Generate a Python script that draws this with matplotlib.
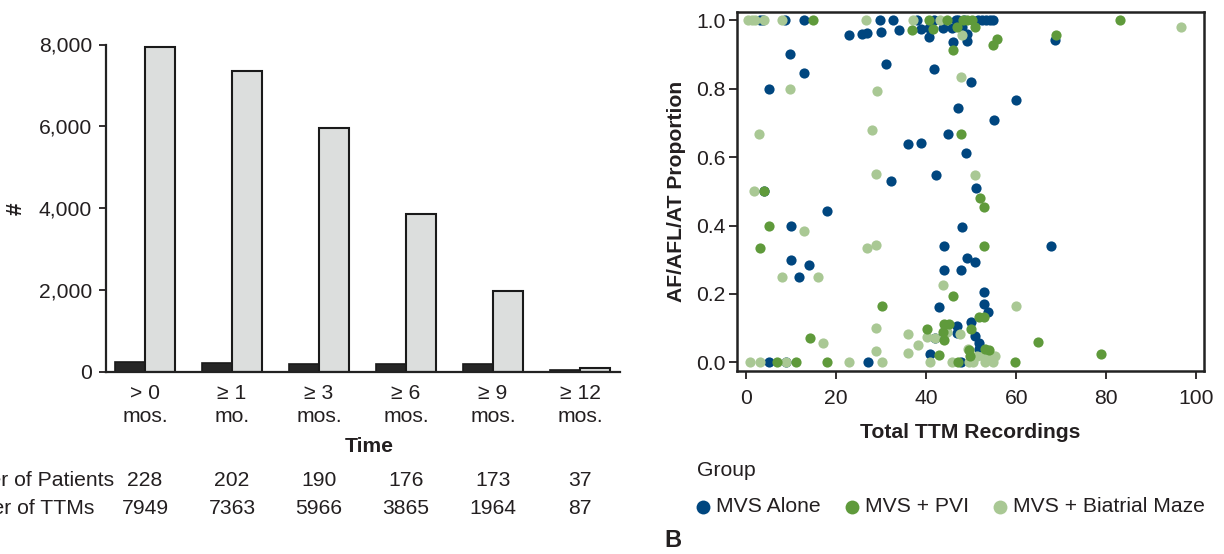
import matplotlib
matplotlib.use("Agg")
import matplotlib.pyplot as plt
from matplotlib.lines import Line2D
from matplotlib.ticker import FuncFormatter

plt.rcParams['font.family'] = ['Liberation Sans', 'DejaVu Sans']

TXT = '#231f20'

# ---------------- Panel A data ----------------
time_labels = ['> 0\nmos.', '≥ 1\nmo.', '≥ 3\nmos.', '≥ 6\nmos.', '≥ 9\nmos.', '≥ 12\nmos.']
n_patients = [228, 202, 190, 176, 173, 37]
n_ttms = [7949, 7363, 5966, 3865, 1964, 87]
row_labels = ['Number of Patients', 'Number of TTMs']

# ---------------- Panel B data ----------------
groups = ['MVS Alone', 'MVS + PVI', 'MVS + Biatrial Maze']
group_colors = ['#00467f', '#5f9a3b', '#a9c894']

alone_x = [3.0, 3.8, 8.7, 12.9, 29.8, 32.7, 37.9, 41.7, 46.6, 47.1, 48.3, 51.4, 52.3, 53.3, 54.2, 54.9,
           22.9, 25.7, 26.8, 29.9, 34.0, 38.8, 40.7, 43.8, 45.7, 47.9, 40.7, 49.0, 46.0, 49.0, 68.6,
           9.8, 12.8, 5.1, 31.0, 41.8, 50.0, 47.1, 55.0, 60.0, 36.0, 38.8, 44.8, 48.8, 32.2, 42.1, 51.0,
           4.0, 17.9, 9.9, 47.9, 44.0, 67.7, 49.0, 50.9, 44.0, 47.8, 9.9, 14.0, 11.8, 52.8, 52.8, 53.7,
           42.9, 50.0, 46.9, 46.9, 42.0, 50.8, 51.8, 51.7, 40.8,
           5.1, 8.8, 27.0, 47.7]
alone_y = [1.0, 1.0, 1.0, 1.0, 1.0, 1.0, 1.0, 1.0, 1.0, 1.0, 1.0, 1.0, 1.0, 1.0, 1.0, 1.0,
           0.957, 0.96, 0.962, 0.966, 0.972, 0.973, 0.976, 0.977, 0.976, 0.98, 0.952, 0.96, 0.935, 0.939, 0.942,
           0.90, 0.846, 0.80, 0.872, 0.858, 0.82, 0.744, 0.709, 0.766, 0.639, 0.641, 0.667, 0.612, 0.531, 0.547, 0.509,
           0.5, 0.443, 0.40, 0.395, 0.341, 0.339, 0.306, 0.293, 0.271, 0.27, 0.299, 0.284, 0.25, 0.207, 0.17, 0.148,
           0.162, 0.119, 0.107, 0.085, 0.072, 0.077, 0.056, 0.038, 0.024,
           0.0, 0.0, 0.0, 0.0]

pvi_x = [14.9, 40.7, 44.7, 48.1, 49.1, 50.1, 83.0,
         36.9, 41.6, 46.8, 50.8, 45.9, 55.8, 54.8, 68.8,
         47.8, 51.9, 52.9, 3.9, 5.1, 3.1, 52.8, 30.1, 46.0, 51.7, 52.9, 44.0, 45.1, 49.9, 40.1,
         43.8, 44.0, 14.1, 64.9, 78.9, 42.8, 49.6, 53.1, 54.0, 49.8,
         6.9, 11.1, 18.0, 47.0, 59.8]
pvi_y = [1.0, 1.0, 1.0, 1.0, 1.0, 1.0, 1.0,
         0.972, 0.975, 0.98, 0.98, 0.912, 0.946, 0.927, 0.957,
         0.667, 0.481, 0.453, 0.5, 0.40, 0.333, 0.339, 0.166, 0.195, 0.134, 0.133, 0.113, 0.111, 0.098, 0.099,
         0.09, 0.066, 0.07, 0.061, 0.025, 0.022, 0.037, 0.038, 0.037, 0.02,
         0.0, 0.0, 0.0, 0.0, 0.0]

maze_x = [0.5, 1.3, 1.9, 3.9, 8.0, 26.7, 37.0, 43.1,
          47.9, 96.6,
          9.8, 2.9, 29.0, 28.0, 47.7, 28.8, 50.9, 1.7, 12.9, 26.8, 28.9, 8.0, 16.0, 43.8, 60.0,
          28.9, 17.0, 28.8, 36.0, 40.1, 42.0, 44.6, 47.4, 38.1, 36.0, 49.2, 51.2, 52.7, 54.2, 55.2,
          0.85, 3.0, 8.8, 22.8, 30.1, 40.8, 45.7, 49.5, 50.4, 53.1, 54.9]
maze_y = [1.0, 1.0, 1.0, 1.0, 1.0, 1.0, 1.0, 1.0,
          0.958, 0.98,
          0.80, 0.667, 0.794, 0.678, 0.834, 0.55, 0.549, 0.5, 0.385, 0.333, 0.344, 0.25, 0.25, 0.227, 0.166,
          0.102, 0.058, 0.034, 0.082, 0.075, 0.072, 0.089, 0.084, 0.052, 0.027, 0.04, 0.019, 0.019, 0.019, 0.019,
          0.0, 0.0, 0.0, 0.0, 0.0, 0.0, 0.0, 0.0, 0.0, 0.0, 0.0]

W, H = 1224, 554
fig = plt.figure(figsize=(W / 100, H / 100), dpi=100)


def fx(px):
    return px / W


def fy(py):
    return 1 - py / H


FS = 15.2

# ---------------- Panel A ----------------
axA = fig.add_axes([fx(106), fy(371.5), fx(620) - fx(106), fy(44.5) - fy(371.5)])
centers = list(range(len(time_labels)))
bw = 0.34
axA.bar([c - bw / 2 for c in centers], n_patients, width=bw, color='#262626',
        edgecolor='#1a1a1a', linewidth=1.2, zorder=2)
axA.bar([c + bw / 2 for c in centers], n_ttms, width=bw, color='#dcdedd',
        edgecolor='#1a1a1a', linewidth=1.5, zorder=2)
axA.set_xlim((106 - 145) / 87, (620 - 145) / 87)
axA.set_ylim(0, 8000)
axA.set_yticks([0, 2000, 4000, 6000, 8000])
axA.yaxis.set_major_formatter(FuncFormatter(lambda v, p: f'{int(v):,}'))
axA.set_xticks(centers)
axA.set_xticklabels(time_labels, fontsize=FS, color=TXT, linespacing=1.25)
axA.tick_params(axis='x', length=0, pad=9)
axA.tick_params(axis='y', length=5, width=1.3, pad=5, labelsize=FS, colors=TXT, direction='out')
for s in ['top', 'right']:
    axA.spines[s].set_visible(False)
for s in ['left', 'bottom']:
    axA.spines[s].set_linewidth(1.6)
    axA.spines[s].set_color('#222222')
axA.patch.set_alpha(0)

fig.text(fx(16), fy(209), '#', rotation=90, fontsize=FS + 1, fontweight='bold', color=TXT,
         ha='center', va='center')
fig.text(fx(369), fy(446), 'Time', fontsize=FS, fontweight='bold', color=TXT,
         ha='center', va='center')

row_ys = [480, 508]
row_ends = [114, 94]
for lab, yy, xe, vals in zip(row_labels, row_ys, row_ends, [n_patients, n_ttms]):
    fig.text(fx(xe), fy(yy), lab, fontsize=FS, color=TXT, ha='right', va='center')
    for c, v in zip(centers, vals):
        xd = axA.transData.transform((c, 0))[0]
        fig.text(xd / W, fy(yy), str(v), fontsize=FS, color=TXT, ha='center', va='center')

# ---------------- Panel B ----------------
axB = fig.add_axes([fx(736.7), fy(371), fx(1203.6) - fx(736.7), fy(12) - fy(371)])
data_by_group = [(alone_x, alone_y), (pvi_x, pvi_y), (maze_x, maze_y)]
for gi in [0, 2, 1]:
    xs, ys = data_by_group[gi]
    axB.scatter(xs, ys, s=54, color=group_colors[gi], linewidths=0, zorder=3)
axB.set_xlim(-2.1, 101.6)
axB.set_ylim(-0.025, 1.024)
axB.set_xticks([0, 20, 40, 60, 80, 100])
axB.set_yticks([0.0, 0.2, 0.4, 0.6, 0.8, 1.0])
axB.yaxis.set_major_formatter(FuncFormatter(lambda v, p: f'{v:.1f}'))
axB.tick_params(length=6, width=1.3, labelsize=FS, colors=TXT, direction='out')
axB.tick_params(axis='y', pad=2)
axB.tick_params(axis='x', pad=7)
for s in axB.spines.values():
    s.set_linewidth(1.8)
    s.set_color('#222222')
axB.set_ylabel('AF/AFL/AT Proportion', fontsize=FS, fontweight='bold', color=TXT, labelpad=7)
axB.set_xlabel('Total TTM Recordings', fontsize=FS, fontweight='bold', color=TXT, labelpad=11)

# legend (manual)
fig.text(fx(697), fy(470), 'Group', fontsize=FS, color=TXT, ha='left', va='center')
leg_dot_x = [703, 852, 1000]
for gname, col, dx in zip(groups, group_colors, leg_dot_x):
    fig.add_artist(Line2D([fx(dx)], [fy(507)], marker='o', markersize=10, color=col,
                          markeredgewidth=0, linestyle='none', transform=fig.transFigure))
    fig.text(fx(dx + 13), fy(507), gname, fontsize=FS, color=TXT, ha='left', va='center')

fig.text(fx(673), fy(529), 'B', fontsize=17, fontweight='bold', color=TXT, ha='center', va='top')

fig.savefig('out.png', dpi=100)
